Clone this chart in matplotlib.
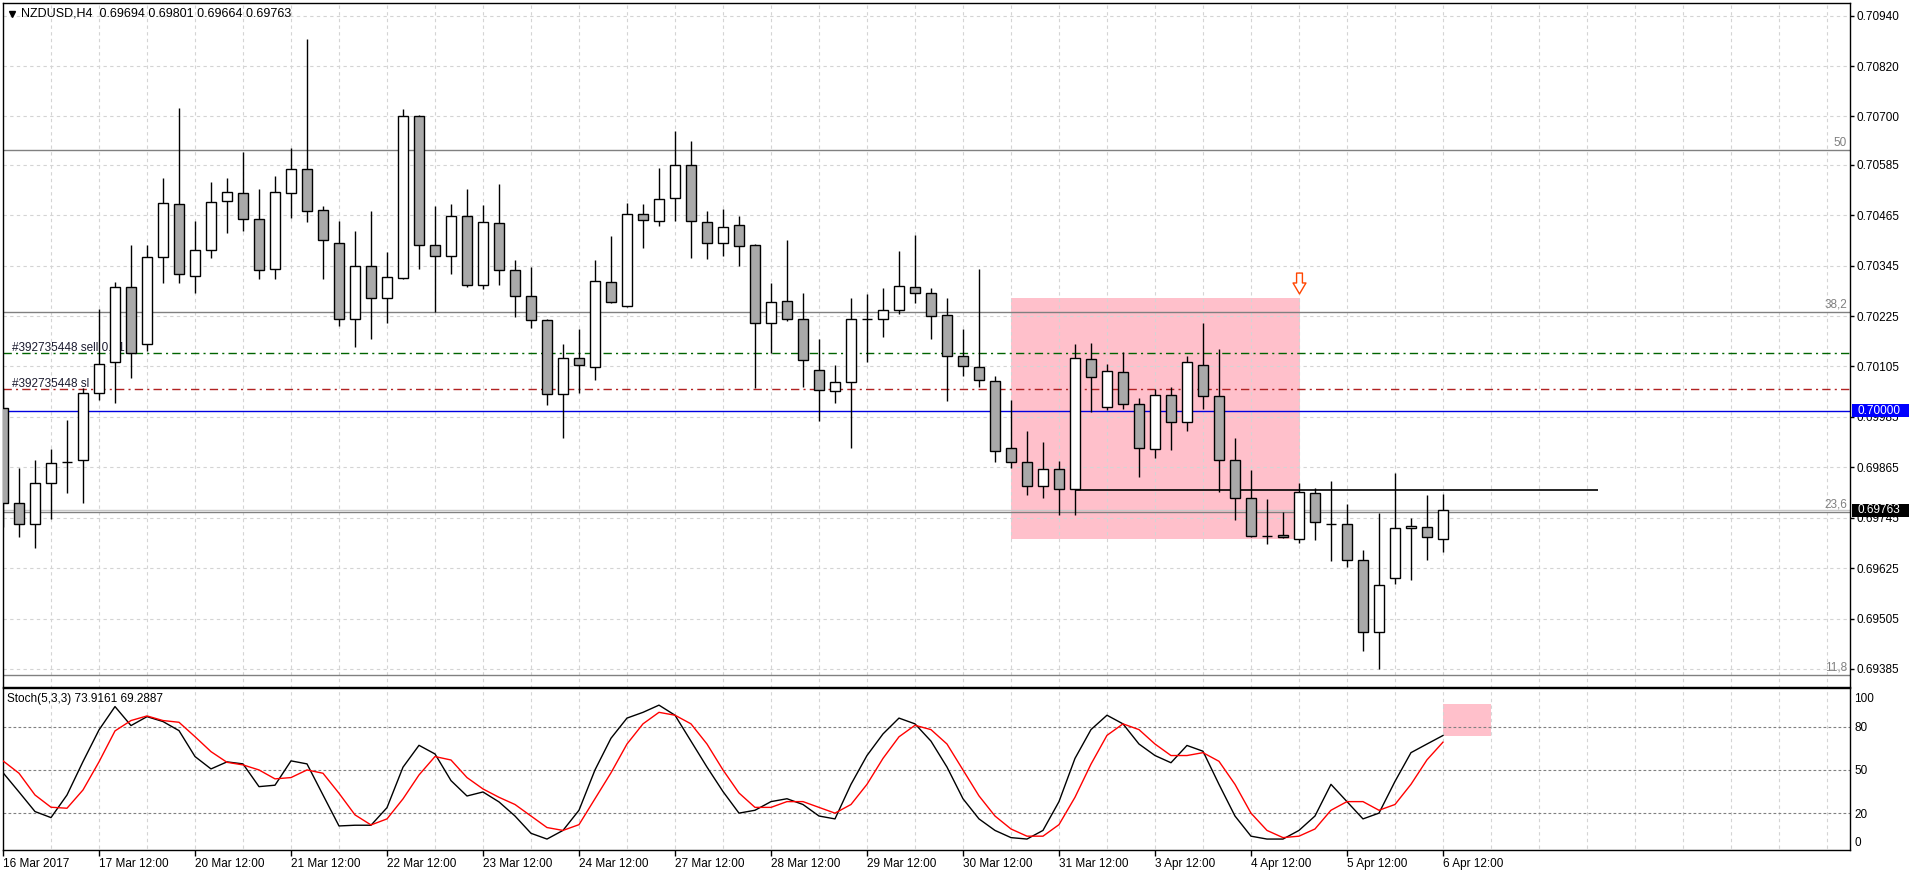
import matplotlib

matplotlib.use("Agg")

import matplotlib.pyplot as plt
import matplotlib.transforms as mtransforms
import numpy as np
from matplotlib.patches import Rectangle
from matplotlib.path import Path

plt.rcParams["font.family"] = ["Liberation Sans", "DejaVu Sans"]

# NZDUSD H4 bars, 16 Mar 2017 .. 6 Apr 2017 12:00
OPEN = [
    0.70007, 0.69779, 0.69729, 0.69827, 0.69878, 0.69882, 0.70041, 0.70115, 0.70295, 0.70158,
    0.70366, 0.70491, 0.70321, 0.70381, 0.70498, 0.70518, 0.70455, 0.70336, 0.70517, 0.70574,
    0.70477, 0.70398, 0.70219, 0.70343, 0.70267, 0.70316, 0.70700, 0.70393, 0.70369, 0.70462,
    0.70298, 0.70446, 0.70334, 0.70272, 0.70215, 0.70039, 0.70124, 0.70104, 0.70305, 0.70249,
    0.70467, 0.70450, 0.70505, 0.70584, 0.70448, 0.70398, 0.70441, 0.70393, 0.70208, 0.70260,
    0.70219, 0.70096, 0.70046, 0.70069, 0.70218, 0.70217, 0.70240, 0.70293, 0.70279, 0.70227,
    0.70129, 0.70103, 0.70070, 0.69912, 0.69877, 0.69820, 0.69862, 0.69813, 0.70122, 0.70008,
    0.70091, 0.70015, 0.69908, 0.70036, 0.69972, 0.70108, 0.70034, 0.69882, 0.69793, 0.69701,
    0.69703, 0.69694, 0.69803, 0.69730, 0.69729, 0.69644, 0.69472, 0.69601, 0.69720, 0.69724,
    0.69694,
]
HIGH = [
    0.70053, 0.69864, 0.69882, 0.69908, 0.69977, 0.70053, 0.70242, 0.70305, 0.70394, 0.70394,
    0.70554, 0.70719, 0.70451, 0.70543, 0.70553, 0.70615, 0.70527, 0.70558, 0.70625, 0.70884,
    0.70487, 0.70451, 0.70427, 0.70475, 0.70377, 0.70718, 0.70703, 0.70487, 0.70491, 0.70527,
    0.70489, 0.70539, 0.70358, 0.70342, 0.70217, 0.70158, 0.70194, 0.70358, 0.70415, 0.70493,
    0.70491, 0.70577, 0.70665, 0.70641, 0.70475, 0.70480, 0.70463, 0.70396, 0.70304, 0.70406,
    0.70280, 0.70170, 0.70108, 0.70268, 0.70277, 0.70292, 0.70380, 0.70418, 0.70291, 0.70268,
    0.70194, 0.70338, 0.70082, 0.70025, 0.69951, 0.69925, 0.69880, 0.70158, 0.70160, 0.70110,
    0.70139, 0.70029, 0.70051, 0.70055, 0.70131, 0.70208, 0.70146, 0.69934, 0.69858, 0.69789,
    0.69758, 0.69828, 0.69815, 0.69832, 0.69777, 0.69667, 0.69756, 0.69852, 0.69744, 0.69799,
    0.69801,
]
LOW = [
    0.69724, 0.69700, 0.69674, 0.69743, 0.69803, 0.69779, 0.70025, 0.70017, 0.70078, 0.70142,
    0.70304, 0.70303, 0.70279, 0.70364, 0.70423, 0.70428, 0.70314, 0.70312, 0.70459, 0.70449,
    0.70312, 0.70202, 0.70152, 0.70170, 0.70209, 0.70314, 0.70336, 0.70234, 0.70326, 0.70295,
    0.70290, 0.70299, 0.70223, 0.70197, 0.70014, 0.69935, 0.70041, 0.70073, 0.70255, 0.70247,
    0.70388, 0.70439, 0.70452, 0.70364, 0.70361, 0.70368, 0.70345, 0.70053, 0.70136, 0.70214,
    0.70057, 0.69976, 0.70019, 0.69912, 0.70115, 0.70176, 0.70229, 0.70257, 0.70171, 0.70023,
    0.70082, 0.70057, 0.69877, 0.69864, 0.69800, 0.69793, 0.69752, 0.69752, 0.69997, 0.70001,
    0.70003, 0.69843, 0.69888, 0.69907, 0.69952, 0.70003, 0.69807, 0.69740, 0.69698, 0.69683,
    0.69697, 0.69685, 0.69692, 0.69643, 0.69627, 0.69428, 0.69384, 0.69587, 0.69597, 0.69644,
    0.69664,
]
CLOSE = [
    0.69779, 0.69729, 0.69827, 0.69874, 0.69878, 0.70041, 0.70110, 0.70295, 0.70136, 0.70366,
    0.70493, 0.70324, 0.70381, 0.70497, 0.70521, 0.70455, 0.70334, 0.70519, 0.70574, 0.70475,
    0.70405, 0.70219, 0.70343, 0.70267, 0.70317, 0.70700, 0.70393, 0.70369, 0.70462, 0.70298,
    0.70448, 0.70334, 0.70272, 0.70215, 0.70039, 0.70124, 0.70108, 0.70308, 0.70258, 0.70467,
    0.70453, 0.70503, 0.70584, 0.70450, 0.70398, 0.70438, 0.70391, 0.70208, 0.70258, 0.70217,
    0.70120, 0.70048, 0.70069, 0.70219, 0.70218, 0.70239, 0.70296, 0.70279, 0.70224, 0.70131,
    0.70105, 0.70072, 0.69903, 0.69877, 0.69820, 0.69862, 0.69813, 0.70124, 0.70079, 0.70093,
    0.70015, 0.69910, 0.70036, 0.69972, 0.70115, 0.70034, 0.69882, 0.69791, 0.69701, 0.69701,
    0.69700, 0.69805, 0.69734, 0.69730, 0.69644, 0.69472, 0.69584, 0.69720, 0.69725, 0.69698,
    0.69763,
]

# Stochastic (5,3,3): main (black) and signal (red)
STOCH_MAIN = [
    48.1, 34.7, 21.1, 16.9, 32.6, 55.8, 77.8, 94.0, 80.8, 87.0,
    83.6, 77.3, 59.3, 50.7, 55.6, 54.2, 38.4, 39.4, 56.3, 54.2,
    32.6, 11.1, 11.6, 11.6, 23.8, 51.9, 67.1, 61.1, 42.6, 31.9,
    34.7, 27.8, 18, 6, 2, 8, 22, 50, 72, 86,
    90, 95, 88, 70, 52, 35, 20, 22, 28, 30,
    26, 18, 16, 40, 60, 75, 86, 82, 70, 52,
    30, 16, 8, 3, 2, 8, 28, 58, 78, 88,
    82, 68, 60, 55, 67, 63, 40, 18, 4, 2,
    2, 8, 18, 40, 28, 16, 20, 42, 62, 68,
    73.9161,
]
STOCH_SIGNAL = [
    56.3, 47.7, 32.6, 24.1, 23.4, 36.1, 55.6, 77.1, 84.3, 87.5,
    84.3, 83.1, 73.1, 62.7, 55.3, 53.5, 50.0, 43.8, 44.7, 50.0,
    47.7, 33.8, 18.8, 11.8, 16.0, 29.9, 46.5, 59.3, 56.9, 44.7,
    36.8, 31.0, 26, 18, 10, 8, 12, 30, 48, 68,
    82, 90, 88, 82, 68, 50, 34, 24, 24, 28,
    28, 24, 20, 26, 40, 58, 73, 81, 78, 68,
    50, 32, 18, 9, 4, 4, 12, 31, 54, 74,
    82, 78, 68, 60, 60, 62, 56, 40, 20, 8,
    3, 4, 9, 22, 28, 28, 22, 26, 40, 57,
    69.2887,
]

TIME_LABELS = [
    "16 Mar 2017", "17 Mar 12:00", "20 Mar 12:00", "21 Mar 12:00", "22 Mar 12:00",
    "23 Mar 12:00", "24 Mar 12:00", "27 Mar 12:00", "28 Mar 12:00", "29 Mar 12:00",
    "30 Mar 12:00", "31 Mar 12:00", "3 Apr 12:00", "4 Apr 12:00", "5 Apr 12:00",
    "6 Apr 12:00",
]
PRICE_TICKS = [
    0.70940, 0.70820, 0.70700, 0.70585, 0.70465, 0.70345, 0.70225,
    0.70105, 0.69985, 0.69865, 0.69745, 0.69625, 0.69505, 0.69385,
]
STOCH_TICKS = [0, 20, 50, 80, 100]
STOCH_LEVELS = [20, 50, 80]

FIB_LEVELS = [0.70620, 0.70234, 0.69758, 0.69371]
FIB_NAMES = ["50", "38,2", "23,6", "11,8"]

TP_PRICE = 0.70136
SL_PRICE = 0.70052
ROUND_PRICE = 0.70000
BID_PRICE = 0.69763
SUPPORT_PRICE = 0.69812
SUPPORT_BARS = (67, 99.7)
ZONE_BARS = (63, 81.06)
ZONE_PRICES = (0.69694, 0.70268)
ARROW_BAR, ARROW_PRICE = 81, 0.70304
STOCH_ZONE_BARS = (90, 93)
STOCH_ZONE_VALUES = (73.6, 95.8)

W, H = 1910, 874
GRID = "#d4d4d4"
PINK = "#ffc0cb"
FS = 8.5


def box(x0, y0, x1, y1):
    return [x0 / W, 1 - y1 / H, (x1 - x0) / W, (y1 - y0) / H]


fig = plt.figure(figsize=(W / 100, H / 100), dpi=100, facecolor="white")
ax = fig.add_axes(box(3, 3, 1850, 687))
st = fig.add_axes(box(3, 688, 1850, 850))

x = np.arange(len(OPEN))
xlim = (0, 115.44)
grid_x = np.arange(3, 116, 3)

for a in (ax, st):
    a.set_xlim(*xlim)
    for s in a.spines.values():
        s.set_color("black")
        s.set_linewidth(1.0)
    a.vlines(grid_x, -10, 10, transform=a.get_xaxis_transform(), color=GRID, lw=0.8,
             linestyle=(0, (3, 3)), zorder=1.2)

# ---- price panel ----
ax.set_ylim(0.69342, 0.70970)
ax.add_patch(Rectangle((ZONE_BARS[0], ZONE_PRICES[0]), ZONE_BARS[1] - ZONE_BARS[0],
                       ZONE_PRICES[1] - ZONE_PRICES[0], fc=PINK, ec="none", zorder=1))
for p in PRICE_TICKS:
    ax.axhline(p, color=GRID, lw=0.8, linestyle=(0, (3, 3)), zorder=1.2)

for lvl, name in zip(FIB_LEVELS, FIB_NAMES):
    ax.axhline(lvl, color="#808080", lw=1.0, zorder=2)
    ax.text(115.25, lvl + 0.00003, name, ha="right", va="bottom", fontsize=FS, color="#808080", zorder=2)

ax.axhline(BID_PRICE, color="#c8c8c8", lw=1.0, zorder=2)
ax.axhline(ROUND_PRICE, color="#0000e0", lw=1.0, zorder=2.1)
dashdot = (0, (6, 3, 1.5, 3))
ax.axhline(TP_PRICE, color="#006400", lw=1.0, linestyle=dashdot, zorder=2)
ax.axhline(SL_PRICE, color="#b22222", lw=1.0, linestyle=dashdot, zorder=2)
ax.text(0.56, TP_PRICE + 0.00005, "#392735448 sell 0.01", fontsize=FS, color="#1c1c30", va="baseline", zorder=2.5)
ax.text(0.56, SL_PRICE + 0.00005, "#392735448 sl", fontsize=FS, color="#1c1c30", va="baseline", zorder=2.5)

ax.hlines(SUPPORT_PRICE, *SUPPORT_BARS, color="black", lw=1.2, zorder=3)

o, h, l, c = map(np.array, (OPEN, HIGH, LOW, CLOSE))
colors = ["white" if cc >= oo else "#a9a9a9" for oo, cc in zip(o, c)]
ax.vlines(x, l, h, color="black", lw=1.0, zorder=4)
ax.bar(x, np.abs(c - o), bottom=np.minimum(o, c), width=0.62, color=colors,
       edgecolor="black", linewidth=1.0, zorder=5)

arrow = Path([(-0.28, 1.0), (0.28, 1.0), (0.28, 0.05), (0.62, 0.05), (0.0, -1.0),
              (-0.62, 0.05), (-0.28, 0.05), (-0.28, 1.0)], closed=True)
ax.plot([ARROW_BAR], [ARROW_PRICE], marker=arrow, ms=15, mfc="white", mec="#ff4500",
        mew=1.0, zorder=6, clip_on=False)

ax.yaxis.tick_right()
ax.set_yticks(PRICE_TICKS)
ax.set_yticklabels([f"{p:.5f}" for p in PRICE_TICKS])
ax.tick_params(axis="y", direction="out", length=3, width=1, pad=2, labelsize=FS, colors="black")
ax.tick_params(axis="x", bottom=False, labelbottom=False)

tr = mtransforms.blended_transform_factory(ax.transAxes, ax.transData)
for price, bg in ((ROUND_PRICE, "#0000ff"), (BID_PRICE, "black")):
    half = 6.5 * 0.0000238
    ax.add_patch(Rectangle((1.0012, price - half), 57 / 1847, 2 * half, transform=tr, fc=bg,
                           ec="none", clip_on=False, zorder=10))
    ax.text(1.0038, price, f"{price:.5f}", transform=tr, ha="left", va="center",
            fontsize=FS, color="white", clip_on=False, zorder=11)

ax.plot([0.0047], [0.9845], marker="v", ms=5, color="black", transform=ax.transAxes, zorder=7)
ax.text(0.0097, 0.9845, "NZDUSD,H4  0.69694 0.69801 0.69664 0.69763", transform=ax.transAxes,
        ha="left", va="center", fontsize=9, color="black", zorder=7)

# ---- stochastic panel ----
st.set_ylim(-5.6, 106.9)
st.add_patch(Rectangle((STOCH_ZONE_BARS[0], STOCH_ZONE_VALUES[0]), STOCH_ZONE_BARS[1] - STOCH_ZONE_BARS[0],
                       STOCH_ZONE_VALUES[1] - STOCH_ZONE_VALUES[0], fc=PINK, ec="none", zorder=1))
for lv in STOCH_LEVELS:
    st.axhline(lv, color="#808080", lw=0.8, linestyle=(0, (2.5, 2)), zorder=1.3)
st.plot(x, STOCH_MAIN, color="black", lw=1.0, zorder=3)
st.plot(x, STOCH_SIGNAL, color="red", lw=1.0, zorder=3)
st.text(0.0022, 0.93, "Stoch(5,3,3) 73.9161 69.2887", transform=st.transAxes, ha="left", va="center",
        fontsize=FS, color="black")

st.yaxis.tick_right()
st.set_yticks(STOCH_TICKS)
st.set_yticklabels([str(v) for v in STOCH_TICKS])
st.tick_params(axis="y", length=0, pad=3, labelsize=FS)

st.set_xticks(np.arange(0, 6 * len(TIME_LABELS), 6))
st.set_xticklabels(TIME_LABELS)
st.tick_params(axis="x", direction="out", length=4, width=1, pad=1.5, labelsize=FS)
for lbl in st.get_xticklabels():
    lbl.set_horizontalalignment("left")

fig.savefig("out.png", dpi=100, facecolor="white")
